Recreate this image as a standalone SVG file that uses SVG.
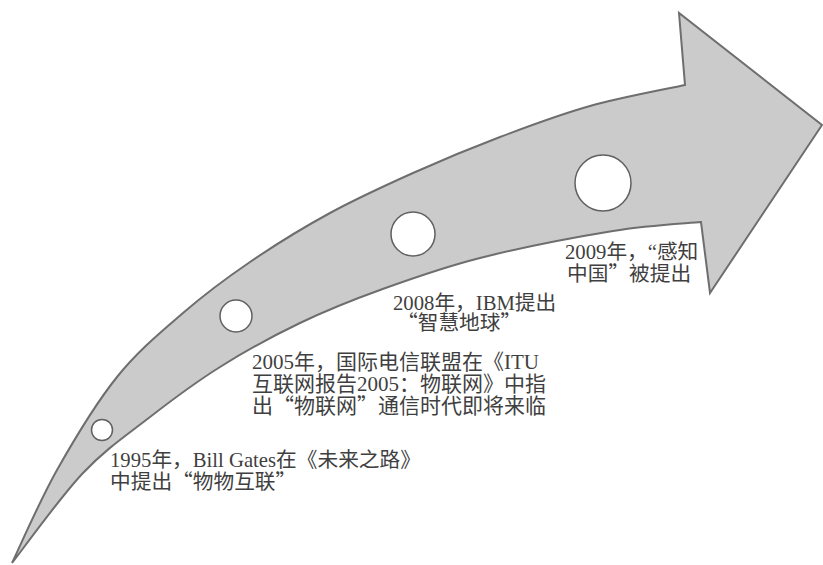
<svg xmlns="http://www.w3.org/2000/svg" width="823" height="565" viewBox="0 0 823 565">
<style>
.arrow{fill:#cbcbcb;stroke:#6e6e6e;stroke-width:2;stroke-linejoin:miter}
.dot{fill:#fff;stroke:#606060;stroke-width:1.5}
.lbl{font-family:"Liberation Serif","Noto Sans CJK SC",serif;font-size:20.7px;fill:#3f3f3f}
.big{font-size:21px}
.q{font-family:"Noto Sans CJK SC",sans-serif}
</style>
<rect width="823" height="565" fill="#fff"/>
<g id="arrow">
<path class="arrow" d="M12,563 C19.5,547.5 39.5,501 57,470 C74.5,439 96,403.2 117,377 C138,350.8 160.8,332.2 183,313 C205.2,293.8 225.5,278.7 250,262 C274.5,245.3 302.8,227.8 330,213 C357.2,198.2 384.7,185.7 413,173 C441.3,160.3 470.5,148.2 500,137 C529.5,125.8 559.2,114.7 590,106 C620.8,97.3 669.2,88.5 685,85 L679,13 L822,125 L710,293 L701,222 C686.3,223.5 649.8,225 613,231 C576.2,237 518.8,248.2 480,258 C441.2,267.8 410,279.2 380,290 C350,300.8 326.7,310.2 300,323 C273.3,335.8 245,351.3 220,367 C195,382.7 172.8,399.3 150,417 C127.2,434.7 106,448.7 83,473 C60,497.3 23.8,548 12,563 Z"/>
</g>
<g id="m1995"><circle class="dot" cx="102" cy="430" r="10.5"/>
<text class="lbl" x="110" y="467">1995年，Bill Gates在《未来之路》<tspan x="110" dy="22">中提出<tspan class="q">“</tspan>物物互联<tspan class="q">”</tspan></tspan></text></g>
<g id="m2005"><circle class="dot" cx="236" cy="316" r="16"/>
<text class="lbl big" x="252" y="369">2005年，国际电信联盟在《ITU<tspan x="252" dy="22">互联网报告2005：物联网》中指</tspan><tspan x="252" dy="22">出<tspan class="q">“</tspan>物联网<tspan class="q">”</tspan>通信时代即将来临</tspan></text></g>
<g id="m2008"><circle class="dot" cx="413" cy="234" r="22"/>
<text class="lbl" x="393" y="310">2008年，IBM提出<tspan x="397" dy="20"><tspan class="q">“</tspan>智慧地球<tspan class="q">”</tspan></tspan></text></g>
<g id="m2009"><circle class="dot" cx="603" cy="183" r="28"/>
<text class="lbl" x="565" y="259">2009年，“感知<tspan x="567" dy="22">中国<tspan class="q">”</tspan>被提出</tspan></text></g>
<g id="connectors"/>
</svg>
